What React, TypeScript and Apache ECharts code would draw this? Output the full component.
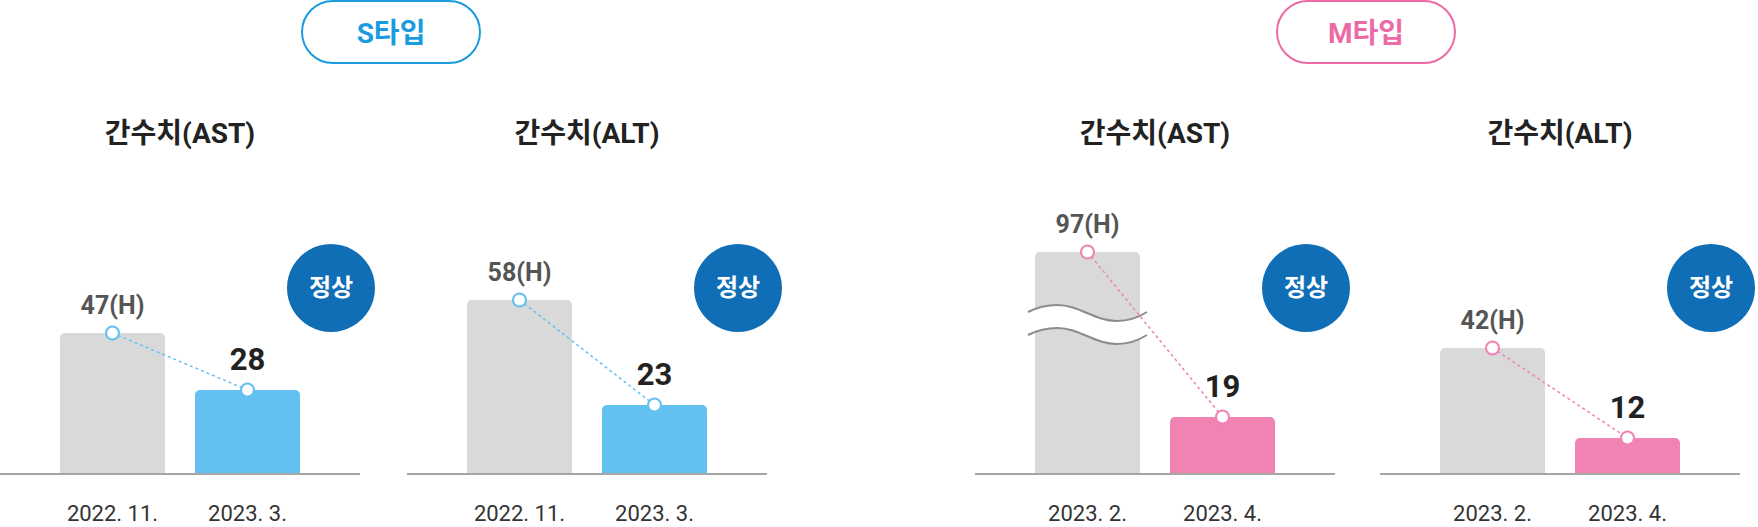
import { useEffect, useRef } from "react";
import * as echarts from "echarts";

// 패널별 데이터
const PANEL_TITLES = ["간수치(AST)", "간수치(ALT)", "간수치(AST)", "간수치(ALT)"];
const PANEL_DATES = [
  ["2022. 11.", "2023. 3."],
  ["2022. 11.", "2023. 3."],
  ["2023. 2.", "2023. 4."],
  ["2023. 2.", "2023. 4."],
];
const BEFORE_VALUES = [47, 58, 97, 42];
const BEFORE_FLAGS = ["H", "H", "H", "H"];
const AFTER_VALUES = [28, 23, 19, 12];
const STATUS = ["정상", "정상", "정상", "정상"];
const GROUP_NAMES = ["S타입", "M타입"];
const PANEL_GROUP = [0, 0, 1, 1];
// M타입 AST 는 축을 끊어서 그림
const BREAK = { panel: 2, start: 48, end: 75, gap: 4 };

const FONT = "Roboto, 'Noto Sans CJK KR', sans-serif";
const GROUP_COLORS = ["#1a9be0", "#ec6aa5"];
const BAR_COLORS = ["#63c1f2", "#f083b4"];
const GRAY = "#d9d9d9";

// 레이아웃
const PANEL_LEFT = [0, 407, 975, 1380];
const PANEL_W = 360;
const GRID_INSET = 45;
const AXIS_Y = 474;
const PLOT_H = 300;
const PILL_X = [302, 1277];

const WAVE_D = "M0,7 C10,2 19,0 29,0 C52,0 66,16 89,16 C101,16 111,12 119,7";
const BAND_D =
  "M0,7 C10,2 19,0 29,0 C52,0 66,16 89,16 C101,16 111,12 119,7 L119,30 C111,35 101,39 89,39 C66,39 52,23 29,23 C19,23 10,25 0,30 Z";

echarts.graphic.registerShape("wave", echarts.graphic.extendPath(WAVE_D, {}));
echarts.graphic.registerShape("waveBand", echarts.graphic.extendPath(BAND_D, {}));

export default function App() {
  const chartRef = useRef<HTMLDivElement>(null);

  useEffect(() => {
    if (!chartRef.current) return;
    const chart = echarts.init(chartRef.current, null, { renderer: "svg" });

    const staticGraphics: any[] = [];
    GROUP_NAMES.forEach((name, g) => {
      staticGraphics.push({
        type: "rect",
        shape: { x: PILL_X[g], y: 1, width: 178, height: 62, r: 31 },
        style: { fill: "#fff", stroke: GROUP_COLORS[g], lineWidth: 2 },
      });
      staticGraphics.push({
        type: "text",
        x: PILL_X[g] + 89,
        y: 33,
        style: {
          text: name,
          fill: GROUP_COLORS[g],
          font: `700 28px ${FONT}`,
          align: "center",
          verticalAlign: "middle",
        },
      });
    });
    PANEL_LEFT.forEach((p, i) => {
      staticGraphics.push({
        type: "text",
        x: p + PANEL_W / 2,
        y: 133,
        style: {
          text: PANEL_TITLES[i],
          fill: "#222",
          font: `700 28px ${FONT}`,
          align: "center",
          verticalAlign: "middle",
        },
      });
      staticGraphics.push({
        type: "line",
        shape: { x1: p, y1: AXIS_Y, x2: p + PANEL_W, y2: AXIS_Y },
        style: { stroke: "#a6a6a6", lineWidth: 2 },
        z: 10,
      });
      staticGraphics.push({
        type: "circle",
        shape: { cx: p + 331, cy: 288, r: 44 },
        style: { fill: "#106eb7" },
      });
      staticGraphics.push({
        type: "text",
        x: p + 331,
        y: 288,
        style: {
          text: STATUS[i],
          fill: "#fff",
          font: `700 24px ${FONT}`,
          align: "center",
          verticalAlign: "middle",
        },
      });
    });

    const series: any[] = [];
    PANEL_LEFT.forEach((_, i) => {
      const color = BAR_COLORS[PANEL_GROUP[i]];
      series.push({
        type: "bar",
        xAxisIndex: i,
        yAxisIndex: i,
        barWidth: 105,
        z: 2,
        label: { show: true, position: "top", distance: 15, fontFamily: FONT },
        data: [
          {
            value: BEFORE_VALUES[i],
            itemStyle: { color: GRAY, borderRadius: [5, 5, 0, 0] },
            label: {
              formatter: `{c}(${BEFORE_FLAGS[i]})`,
              color: "#555",
              fontSize: 25,
              fontWeight: 700,
            },
          },
          {
            value: AFTER_VALUES[i],
            itemStyle: { color, borderRadius: [5, 5, 0, 0] },
            label: { color: "#222", fontSize: 31, fontWeight: 700 },
          },
        ],
      });
      series.push({
        type: "line",
        xAxisIndex: i,
        yAxisIndex: i,
        z: 6,
        symbol: "circle",
        symbolSize: 13,
        lineStyle: { color, width: 1.5, type: [3, 3] },
        itemStyle: { color: "#fff", borderColor: color, borderWidth: 2 },
        data: [BEFORE_VALUES[i], AFTER_VALUES[i]],
      });
    });

    chart.setOption({
      animation: false,
      grid: PANEL_LEFT.map((p) => ({
        left: p + GRID_INSET,
        width: PANEL_W - GRID_INSET * 2,
        top: AXIS_Y - PLOT_H,
        height: PLOT_H,
      })),
      xAxis: PANEL_LEFT.map((_, i) => ({
        gridIndex: i,
        type: "category",
        data: PANEL_DATES[i],
        axisLine: { show: false },
        axisTick: { show: false },
        axisLabel: { margin: 28, fontSize: 22, color: "#333", fontFamily: FONT },
      })),
      yAxis: PANEL_LEFT.map((_, i) => {
        const isBreak = i === BREAK.panel;
        return {
          gridIndex: i,
          type: "value",
          min: 0,
          max: isBreak ? 100 + (BREAK.end - BREAK.start - BREAK.gap) : 100,
          axisLine: { show: false },
          axisTick: { show: false },
          axisLabel: { show: false },
          splitLine: { show: false },
          ...(isBreak
            ? {
                breaks: [{ start: BREAK.start, end: BREAK.end, gap: BREAK.gap }],
                breakArea: { show: false },
              }
            : {}),
        };
      }),
      series,
      graphic: staticGraphics,
    });

    // 끊김 표시(물결) 위치
    const cx = chart.convertToPixel({ xAxisIndex: BREAK.panel }, PANEL_DATES[BREAK.panel][0]) as number;
    const y1 = chart.convertToPixel({ yAxisIndex: BREAK.panel }, BREAK.start) as number;
    const y2 = chart.convertToPixel({ yAxisIndex: BREAK.panel }, BREAK.end) as number;
    const yMid = (y1 + y2) / 2;
    const wx = cx - 59.5;
    const wy = yMid - 19;
    const waveStyle = { fill: "none", stroke: "#8c8c8c", lineWidth: 2 };
    chart.setOption({
      graphic: [
        ...staticGraphics,
        { type: "waveBand", x: wx, y: wy, z: 4, style: { fill: "#fff" } },
        { type: "wave", x: wx, y: wy, z: 4, style: waveStyle },
        { type: "wave", x: wx, y: wy + 23, z: 4, style: waveStyle },
      ],
    });

    return () => chart.dispose();
  }, []);

  return (
    <div
      ref={chartRef}
      style={{ position: "absolute", left: 0, top: 0, width: 1758, height: 527 }}
    />
  );
}
